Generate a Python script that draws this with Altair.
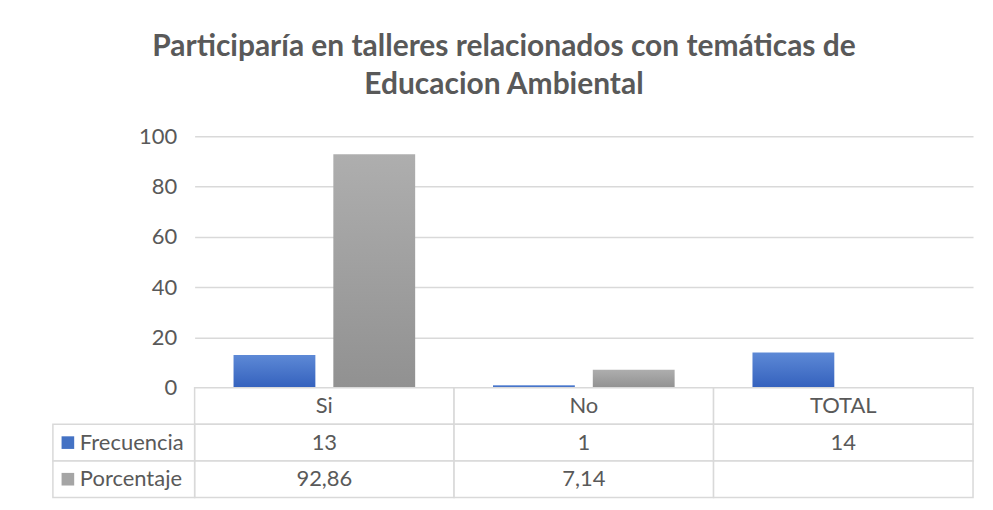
import altair as alt
import pandas as pd

# ---- data ----
categories = ["Si", "No", "TOTAL"]
series = ["Frecuencia", "Porcentaje"]
frecuencia = [13, 1, 14]
porcentaje = [92.86, 7.14, None]
frecuencia_labels = ["13", "1", "14"]
porcentaje_labels = ["92,86", "7,14", ""]
y_ticks = [0, 20, 40, 60, 80, 100]
title_lines = ["Participaría en talleres relacionados con temáticas de", "Educacion Ambiental"]

FONT = "Lato"
TXT = "#595959"
GRID = "#d9d9d9"
FS = 22

rows = []
for c, f, p in zip(categories, frecuencia, porcentaje):
    rows.append({"cat": c, "serie": "Frecuencia", "valor": f})
    if p is not None:
        rows.append({"cat": c, "serie": "Porcentaje", "valor": p})
bars_df = pd.DataFrame(rows)

table_rows = ["Categoria", "Frecuencia", "Porcentaje"]
cells = []
for i, c in enumerate(categories):
    cells.append({"fila": "Categoria", "cat": c, "texto": c})
    cells.append({"fila": "Frecuencia", "cat": c, "texto": frecuencia_labels[i]})
    cells.append({"fila": "Porcentaje", "cat": c, "texto": porcentaje_labels[i]})
table_df = pd.DataFrame(cells)
legend_df = pd.DataFrame({"fila": series})

# ---- bar chart ----
x_enc = alt.X("cat:N", sort=categories,
              scale=alt.Scale(domain=categories, paddingInner=0, paddingOuter=0), axis=None)
xo_enc = alt.XOffset("serie:N",
                     scale=alt.Scale(domain=series, paddingInner=0.18, paddingOuter=0.39))
y_enc = alt.Y("valor:Q", scale=alt.Scale(domain=[0, 100], nice=False),
              axis=alt.Axis(values=y_ticks, title=None, domain=False, ticks=False,
                            labelPadding=18, labelFontSize=FS, labelColor=TXT,
                            labelFont=FONT, gridColor=GRID, gridWidth=1.5))

blue = alt.LinearGradient(gradient="linear", x1=0, y1=0, x2=0, y2=1,
                          stops=[alt.GradientStop(color="#5d89d6", offset=0),
                                 alt.GradientStop(color="#3461bd", offset=1)])
gray = alt.LinearGradient(gradient="linear", x1=0, y1=0, x2=0, y2=1,
                          stops=[alt.GradientStop(color="#aeaeae", offset=0),
                                 alt.GradientStop(color="#919191", offset=1)])

base = alt.Chart(bars_df).encode(x=x_enc, xOffset=xo_enc, y=y_enc)
freq_bars = base.transform_filter(alt.datum.serie == "Frecuencia").mark_bar(color=blue)
pct_bars = base.transform_filter(alt.datum.serie == "Porcentaje").mark_bar(color=gray)
bar_chart = alt.layer(freq_bars, pct_bars).properties(width=780, height=252)

# ---- data table ----
tx = alt.X("cat:N", scale=alt.Scale(domain=categories, paddingInner=0, paddingOuter=0), axis=None)
ty = alt.Y("fila:N", scale=alt.Scale(domain=table_rows, paddingInner=0, paddingOuter=0), axis=None)

cell_rect = alt.Chart(table_df).mark_rect(fill="white", stroke=GRID, strokeWidth=1.5).encode(x=tx, y=ty)
cell_text = alt.Chart(table_df).mark_text(font=FONT, fontSize=FS, color=TXT).encode(
    x=tx, y=ty, text="texto:N")
leg_rect = alt.Chart(legend_df).mark_rect(fill="white", stroke=GRID, strokeWidth=1.5).encode(
    x=alt.value(-142), x2=alt.value(0), y=ty)
leg_sq = alt.Chart(legend_df).mark_square(size=160, opacity=1).encode(
    x=alt.value(-127), y=ty,
    color=alt.Color("fila:N", scale=alt.Scale(domain=series, range=["#4472c4", "#a5a5a5"]), legend=None))
leg_text = alt.Chart(legend_df).mark_text(font=FONT, fontSize=FS, color=TXT, align="left").encode(
    x=alt.value(-115), y=ty, text="fila:N")
table_chart = alt.layer(cell_rect, cell_text, leg_rect, leg_sq, leg_text).properties(width=780, height=110)

chart = alt.vconcat(bar_chart, table_chart, spacing=0, bounds="flush").properties(
    title=alt.TitleParams(title_lines, font=FONT, fontSize=30, fontWeight="bold", color=TXT,
                          anchor="middle", lineHeight=38, offset=25, dx=-9),
    padding={"left": 43, "top": 23, "right": 10, "bottom": 4},
).configure_view(stroke="transparent")

chart.save("out.html", embed_options={"renderer": "svg", "actions": False})
